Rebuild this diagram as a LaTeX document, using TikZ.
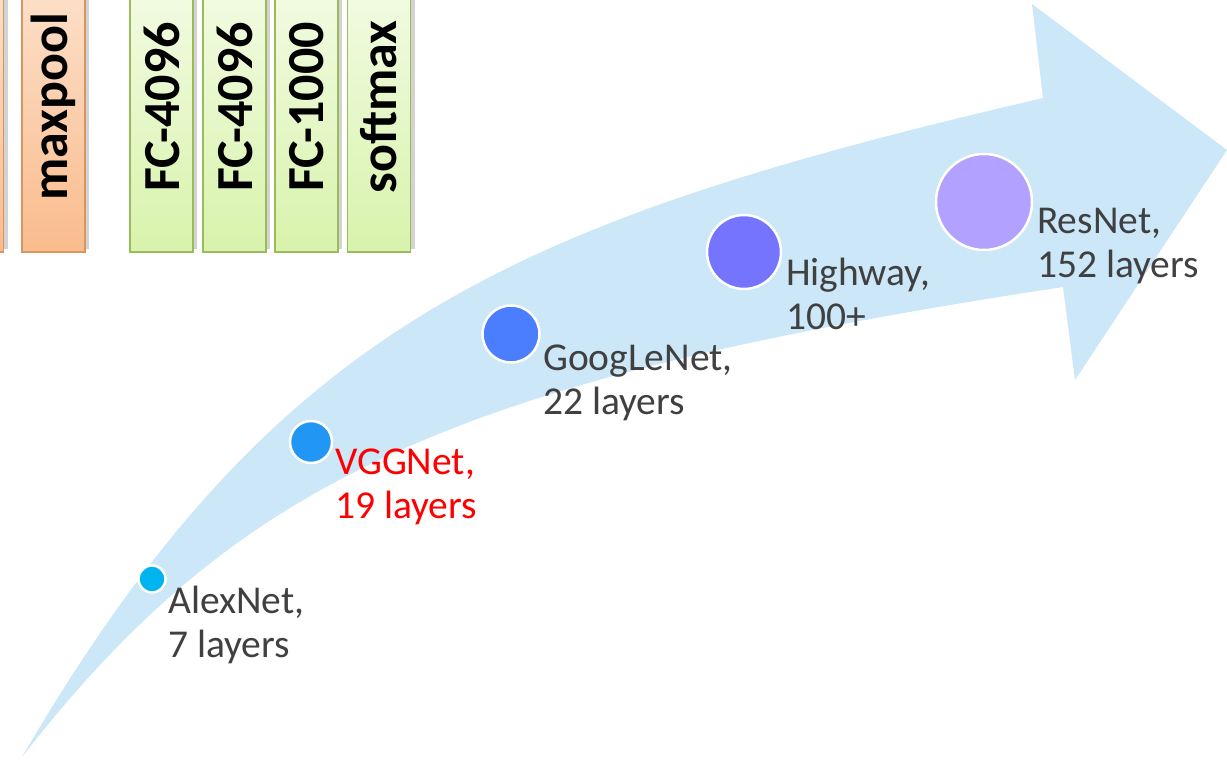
\documentclass[tikz,border=0pt]{standalone}
\usepackage{fontspec}
\setmainfont{Carlito}
\usetikzlibrary{calc}
\usetikzlibrary{shadows}

\definecolor{arrowblue}{HTML}{CBE7F8}
\definecolor{alexcol}{HTML}{00B4F0}
\definecolor{vggcol}{HTML}{2196F5}
\definecolor{googcol}{HTML}{4A7EFF}
\definecolor{hwycol}{HTML}{7474FF}
\definecolor{rescol}{HTML}{B3A1FF}
\definecolor{labelgray}{HTML}{404040}
\definecolor{fcborder}{HTML}{9BBB59}
\definecolor{fclight}{HTML}{F4FCE8}
\definecolor{fcdark}{HTML}{D8F3AC}
\definecolor{poolborder}{HTML}{D9955F}
\definecolor{poollight}{HTML}{FDE3D0}
\definecolor{pooldark}{HTML}{F9BC8C}

\tikzset{
 layerbox/.style={rotate=90, minimum width=290, minimum height=63, inner sep=0,
   line width=1.2, font=\bfseries\fontsize{52}{52}\selectfont,
   drop shadow={shadow xshift=4, shadow yshift=-3, opacity=0.35, fill=gray}},
 fcbox/.style={layerbox, draw=fcborder, top color=fclight, bottom color=fcdark},
 poolbox/.style={layerbox, draw=poolborder, top color=poollight, bottom color=pooldark},
 netdot/.style={circle, draw=white, line width=2.5, inner sep=0},
 netlabel/.style={anchor=base west, align=left, inner sep=0, text=labelgray,
   font=\fontsize{39.5}{44}\selectfont},
}

\begin{document}
\begin{tikzpicture}[x=1pt, y=-1pt]
\useasboundingbox (0,0) rectangle (1227,765);
% layer boxes of the network, cut by the top edge
\begin{scope}
\clip (0,0) rectangle (1227,765);
\node[poolbox] (pool0) at (-28,107) {};
\node[poolbox] (pool) at (53.5,107) {maxpool};
\node[fcbox] (fca) at (161.5,107) {FC-4096};
\node[fcbox] (fcb) at (234.5,107) {FC-4096};
\node[fcbox] (fcc) at (306.5,107) {FC-1000};
\node[fcbox] (soft) at (379,107) {softmax};
\end{scope}
% the big arrow
\coordinate (tail) at (22,757);
\coordinate (neckup) at (1043,98);
\coordinate (barbup) at (1032,4);
\coordinate (tip) at (1227,150);
\coordinate (barbdown) at (1075,380);
\coordinate (neckdown) at (1063,287);
\fill[arrowblue] (tail) .. controls (274,326) and (507,223) .. (neckup)
 -- (barbup) -- (tip) -- (barbdown) -- (neckdown)
 .. controls (450,380) and (237,481) .. cycle;
% networks (label anchor is the baseline of the second line)
\node[netdot, fill=alexcol, minimum size=27] (alex) at (152,579) {};
\node[netdot, fill=vggcol, minimum size=42] (vgg) at (311,442) {};
\node[netdot, fill=googcol, minimum size=57] (goog) at (511,334) {};
\node[netdot, fill=hwycol, minimum size=74] (hwy) at (744,252) {};
\node[netdot, fill=rescol, minimum size=96] (res) at (984,202) {};
\node[netlabel] (alexlbl) at (168,657) {AlexNet,\\7 layers};
\node[netlabel, text=red] (vgglbl) at (335,518) {VGGNet,\\19 layers};
\node[netlabel] (googlbl) at (543,414) {GoogLeNet,\\22 layers};
\node[netlabel] (hwylbl) at (786,329) {Highway,\\100+};
\node[netlabel] (reslbl) at (1037,277) {ResNet,\\152 layers};
\end{tikzpicture}
\end{document}
